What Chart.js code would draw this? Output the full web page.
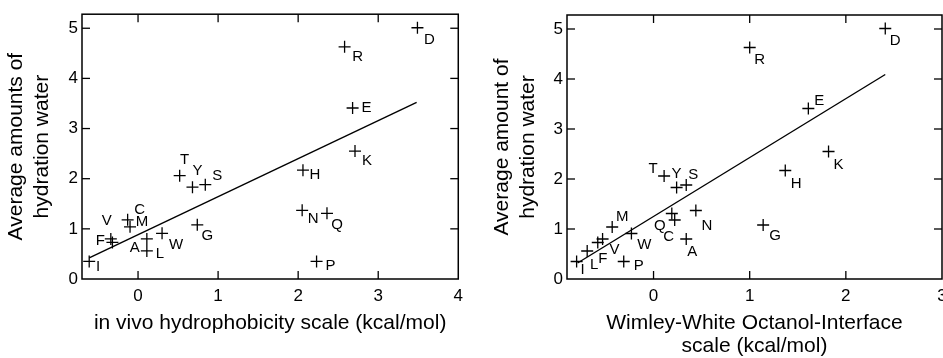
<!DOCTYPE html>
<html>
<head>
<meta charset="utf-8">
<script src="https://cdn.jsdelivr.net/npm/chart.js@4.4.1/dist/chart.umd.min.js"></script>
<style>
  body { margin: 0; background: #fff; overflow: hidden; width: 943px; height: 358px; position: relative; }
  canvas { position: absolute; top: 0; }
</style>
</head>
<body>
<canvas id="c1" width="470" height="358" style="left:0"></canvas>
<canvas id="c2" width="500" height="358" style="left:470px"></canvas>
<script>
// amino acids and the average amount of hydration water
var aminoAcids = ["A","R","N","D","C","Q","E","G","H","I","L","K","M","F","P","S","T","W","Y","V"];
var hydration  = [0.80,4.63,1.37,5.01,1.18,1.31,3.41,1.08,2.17,0.35,0.56,2.55,1.04,0.73,0.35,1.88,2.06,0.91,1.83,0.80];
// in vivo hydrophobicity scale (kcal/mol)
var inVivo     = [0.11,2.58,2.05,3.49,-0.13,2.36,2.68,0.74,2.06,-0.61,0.11,2.71,-0.10,-0.32,2.23,0.84,0.52,0.30,0.68,-0.34];
// Wimley-White octanol-interface scale (kcal/mol)
var wimleyWhite = [0.34,1.00,0.44,2.41,0.22,0.19,1.61,1.14,1.37,-0.80,-0.69,1.82,-0.43,-0.58,-0.31,0.34,0.11,-0.23,0.24,-0.53];
// regression lines (end points)
var fitInVivoX = [-0.61, 3.48];
var fitInVivoY = [0.42, 3.52];
var fitWwX = [-0.79, 2.41];
var fitWwY = [0.32, 4.09];
var yTicks = [0,1,2,3,4,5];
var xTicksLeft = [0,1,2,3,4];
var xTicksRight = [0,1,2,3];

var FONT = "'Liberation Sans', Arial, Helvetica, sans-serif";

// where each letter sits relative to its cross (px)
var offsLeft = {I:[9,5],F:[-12,-2],V:[-4,-18],C:[12,-10],M:[12,-5],A:[-12,9],L:[13,3],W:[14,11],T:[5,-16],Y:[5,-16],
  S:[12,-9],G:[10,11],H:[12,5],N:[11,9],Q:[10,12],P:[14,4],R:[13,10],E:[14,0],K:[12,10],D:[12,12]};
var offsRight = {I:[6,8],L:[7,14],F:[5,16],V:[12,11],M:[10,-10],W:[13,11],P:[15,4],T:[-11,-7],Y:[0,-14],S:[7,-10],
  Q:[-12,12],C:[-6,17],A:[6,13],N:[11,15],G:[12,11],H:[11,13],K:[10,13],E:[11,-8],R:[10,12],D:[10,12]};

function seg(ctx, x1, y1, x2, y2) {
  ctx.beginPath();
  ctx.moveTo(x1, y1);
  ctx.lineTo(x2, y2);
  ctx.stroke();
}

// box around plot + inward ticks on all 4 sides
var framePlugin = {
  id: 'frame',
  afterDraw: function (chart) {
    var ctx = chart.ctx, a = chart.chartArea;
    var xsc = chart.scales.x, ysc = chart.scales.y;
    var xt = chart.options.plugins.frame.xTicks;
    var tl = 8;
    ctx.save();
    ctx.strokeStyle = '#000';
    ctx.lineWidth = 1.5;
    ctx.strokeRect(a.left, a.top, a.right - a.left, a.bottom - a.top);
    ctx.lineWidth = 1.3;
    for (var i = 0; i < xt.length; i++) {
      var px = xsc.getPixelForValue(xt[i]);
      if (px > a.right - 1) continue;
      seg(ctx, px, a.bottom, px, a.bottom - tl);
      seg(ctx, px, a.top, px, a.top + tl);
    }
    for (var j = 1; j < yTicks.length; j++) {
      var py = ysc.getPixelForValue(yTicks[j]);
      seg(ctx, a.left, py, a.left + tl, py);
      seg(ctx, a.right, py, a.right - tl, py);
    }
    ctx.restore();
  }
};

var letterPlugin = {
  id: 'letters',
  afterDatasetsDraw: function (chart, args, opts) {
    var ctx = chart.ctx;
    var meta = chart.getDatasetMeta(0);
    ctx.save();
    ctx.fillStyle = '#000';
    ctx.font = '15px ' + FONT;
    ctx.textAlign = 'center';
    ctx.textBaseline = 'middle';
    meta.data.forEach(function (pt, i) {
      var aa = aminoAcids[i];
      var o = opts.offsets[aa] || [10, 10];
      ctx.fillText(aa, pt.x + o[0], pt.y + o[1]);
    });
    ctx.restore();
  }
};

function makeChart(id, xs, fx, fy, xMin, xMax, xTitle, yTitle, opt) {
  var pts = xs.map(function (v, i) { return {x: v, y: hydration[i]}; });
  var fit = fx.map(function (v, i) { return {x: v, y: fy[i]}; });
  return new Chart(document.getElementById(id), {
    type: 'scatter',
    data: {
      datasets: [
        {data: pts, pointStyle: 'cross', pointRadius: 6, pointBorderWidth: 1.3,
         borderColor: '#000', backgroundColor: '#000'},
        {type: 'line', data: fit, borderColor: '#000', borderWidth: 1.4, pointRadius: 0, fill: false}
      ]
    },
    options: {
      responsive: false,
      animation: false,
      devicePixelRatio: 1,
      layout: {padding: {top: opt.top, right: opt.right, left: 0, bottom: 0}},
      plugins: {legend: {display: false}, tooltip: {enabled: false},
                letters: {offsets: opt.offsets}, frame: {xTicks: opt.xTicks}},
      scales: {
        x: {
          type: 'linear', min: xMin, max: xMax,
          grid: {display: false, drawTicks: false}, border: {display: false},
          afterBuildTicks: function (s) { s.ticks = opt.xTicks.map(function (v) { return {value: v}; }); },
          ticks: {color: '#000', padding: 7, maxRotation: 0,
                  font: {family: FONT, size: 17}},
          title: {display: true, text: xTitle, color: '#000', font: {family: FONT, size: 21, lineHeight: opt.xLh},
                  padding: {top: 0, bottom: opt.xPad}},
          afterFit: function (s) { s.height = 79; }
        },
        y: {
          type: 'linear', min: 0, max: 5.28,
          grid: {display: false, drawTicks: false}, border: {display: false},
          afterBuildTicks: function (s) { s.ticks = yTicks.map(function (v) { return {value: v}; }); },
          ticks: {color: '#000', padding: 4, font: {family: FONT, size: 17}},
          title: {display: true, text: yTitle, color: '#000', font: {family: FONT, size: 21, lineHeight: 1.2},
                  padding: {top: opt.yPad, bottom: 0}},
          afterFit: function (s) { s.width = opt.yw; }
        }
      }
    },
    plugins: [framePlugin, letterPlugin]
  });
}

makeChart('c1', inVivo, fitInVivoX, fitInVivoY, -0.7, 4,
  'in vivo hydrophobicity scale (kcal/mol)', ['Average amounts of', 'hydration water'],
  {top: 14, right: 9, yw: 82, yPad: 4, xPad: 22.5, xLh: 1.2, xTicks: xTicksLeft, offsets: offsLeft});

makeChart('c2', wimleyWhite, fitWwX, fitWwY, -0.9, 3,
  ['Wimley-White Octanol-Interface', 'scale (kcal/mol)'], ['Average amount of', 'hydration water'],
  {top: 15, right: 28, yw: 97, yPad: 20, xPad: 0.6, xLh: 1.1, xTicks: xTicksRight, offsets: offsRight});
</script>
</body>
</html>
